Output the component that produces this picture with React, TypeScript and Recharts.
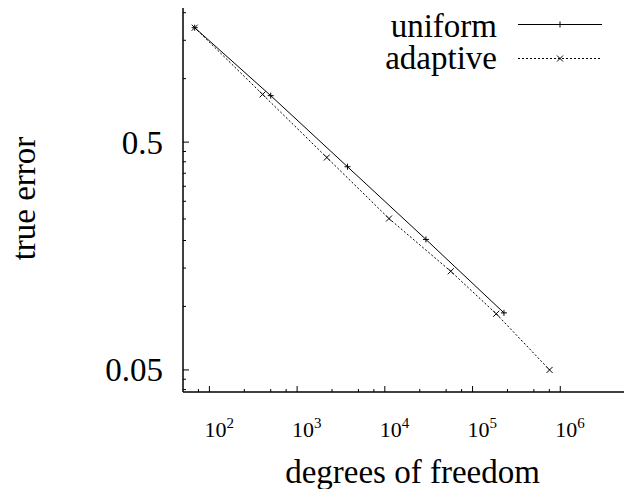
import { LineChart, Line, XAxis, YAxis, Legend } from 'recharts';

// values (log-log)
const uniformDofs = [68, 500, 3750, 29400, 228000];
const uniformError = [1.59, 0.8, 0.39, 0.187, 0.089];
const adaptiveDofs = [68, 404, 2180, 11150, 56400, 186000, 755000];
const adaptiveError = [1.59, 0.81, 0.428, 0.231, 0.1355, 0.0882, 0.05];

const xTicks = [75, 100, 250, 500, 750, 1000, 2500, 5000, 7500, 10000, 25000, 50000, 75000, 100000, 250000, 500000, 750000, 1000000];
const xMajor = [100, 1000, 10000, 100000, 1000000];
const yTicks = [0.041, 0.0455, 0.05, 0.095, 0.14, 0.185, 0.23, 0.275, 0.32, 0.365, 0.41, 0.455, 0.5, 0.95, 1.4, 1.85];
const yMajor = [0.05, 0.5];

const uniformData = uniformDofs.map((d, i) => ({ dofs: d, error: uniformError[i] }));
const adaptiveData = adaptiveDofs.map((d, i) => ({ dofs: d, error: adaptiveError[i] }));

const txt = { fontFamily: 'Liberation Serif, Times New Roman, Times, DejaVu Serif, serif', fill: '#000' };

const XTick = (props: any) => {
    const { x, y, payload } = props;
    const major = xMajor.includes(payload.value);
    const exp = Math.round(Math.log10(payload.value));
    return (
        <g>
            <line x1={x} x2={x} y1={y} y2={y - (major ? 6 : 3)} stroke="#000" />
            {major && (
                <text x={x - 5} y={y + 45} style={{ ...txt, fontSize: 22 }}>
                    10<tspan dy={-9} style={{ fontSize: 15 }}>{exp}</tspan>
                </text>
            )}
        </g>
    );
};

const TopTick = (props: any) => {
    const { x, y, payload } = props;
    const major = xMajor.includes(payload.value);
    return <line x1={x} x2={x} y1={y} y2={y + (major ? 6 : 3)} stroke="#000" />;
};

const YTick = (props: any) => {
    const { x, y, payload } = props;
    const major = yMajor.includes(payload.value);
    return (
        <g>
            <line x1={x} x2={x + (major ? 6 : 3)} y1={y} y2={y} stroke="#000" />
            {major && (
                <text x={x - 20} y={y + 11.5} textAnchor="end" style={{ ...txt, fontSize: 33 }}>
                    {payload.value}
                </text>
            )}
        </g>
    );
};

const plus = (props: any) => {
    const { cx, cy, index } = props;
    return <path key={'u' + index} d={`M${cx - 3},${cy}h6M${cx},${cy - 3}v6`} stroke="#000" strokeWidth={1} fill="none" />;
};

const cross = (props: any) => {
    const { cx, cy, index } = props;
    return <path key={'a' + index} d={`M${cx - 3},${cy - 3}l6,6M${cx - 3},${cy + 3}l6,-6`} stroke="#000" strokeWidth={1} fill="none" />;
};

const renderLegend = () => (
    <svg width={660} height={80} style={{ display: 'block' }}>
        <text x={497} y={37} textAnchor="end" style={{ ...txt, fontSize: 33 }}>uniform</text>
        <line x1={518} x2={602} y1={24.5} y2={24.5} stroke="#000" />
        {plus({ cx: 560, cy: 24.5, index: 'l' })}
        <text x={497} y={69} textAnchor="end" style={{ ...txt, fontSize: 33 }}>adaptive</text>
        <line x1={518} x2={602} y1={58.5} y2={58.5} stroke="#000" strokeDasharray="2 2" />
        {cross({ cx: 560, cy: 58.5, index: 'l' })}
    </svg>
);

export default function App() {
    return (
        <div style={{ margin: -8, width: 632, height: 497, overflow: 'hidden', background: '#fff' }}>
            <LineChart width={660} height={497} margin={{ top: 5, right: 12, bottom: 0, left: 0 }}>
                <XAxis
                    dataKey="dofs"
                    type="number"
                    scale="log"
                    domain={[50, 10000000]}
                    allowDataOverflow
                    ticks={xTicks}
                    interval={0}
                    tick={<XTick />}
                    tickSize={0}
                    tickMargin={0}
                    tickLine={false}
                    height={105}
                    axisLine={{ stroke: '#000', strokeWidth: 1.5 }}
                    label={{
                        content: (p: any) => {
                            const vb = p.viewBox;
                            return (
                                <text x={vb.x + vb.width / 2 - 3} y={483} textAnchor="middle" style={{ ...txt, fontSize: 33 }}>
                                    degrees of freedom
                                </text>
                            );
                        },
                    }}
                />
                <XAxis
                    xAxisId="top"
                    orientation="top"
                    dataKey="dofs"
                    type="number"
                    scale="log"
                    domain={[50, 10000000]}
                    allowDataOverflow
                    ticks={xTicks}
                    interval={0}
                    tick={<TopTick />}
                    tickSize={0}
                    tickMargin={0}
                    tickLine={false}
                    height={0}
                    axisLine={{ stroke: '#000', strokeWidth: 1.5 }}
                />
                <YAxis
                    dataKey="error"
                    type="number"
                    scale="log"
                    domain={[0.04, 2]}
                    allowDataOverflow
                    ticks={yTicks}
                    interval={0}
                    tick={<YTick />}
                    tickSize={0}
                    tickMargin={0}
                    tickLine={false}
                    width={183}
                    axisLine={{ stroke: '#000', strokeWidth: 1.5 }}
                    label={{
                        content: (p: any) => {
                            const vb = p.viewBox;
                            const cy = vb.y + vb.height / 2;
                            return (
                                <text x={35} y={cy} transform={`rotate(-90, 35, ${cy})`} textAnchor="middle" style={{ ...txt, fontSize: 33 }}>
                                    true error
                                </text>
                            );
                        },
                    }}
                />
                <Legend
                    layout="horizontal"
                    verticalAlign="middle"
                    align="center"
                    content={renderLegend}
                    wrapperStyle={{ position: 'absolute', left: 0, top: 0, width: 660, height: 80 }}
                />
                <Line
                    data={uniformData}
                    dataKey="error"
                    name="uniform"
                    stroke="#000"
                    strokeWidth={1}
                    dot={plus}
                    activeDot={false}
                    isAnimationActive={false}
                />
                <Line
                    data={adaptiveData}
                    dataKey="error"
                    name="adaptive"
                    stroke="#000"
                    strokeWidth={1}
                    strokeDasharray="2 2"
                    dot={cross}
                    activeDot={false}
                    isAnimationActive={false}
                />
            </LineChart>
        </div>
    );
}
